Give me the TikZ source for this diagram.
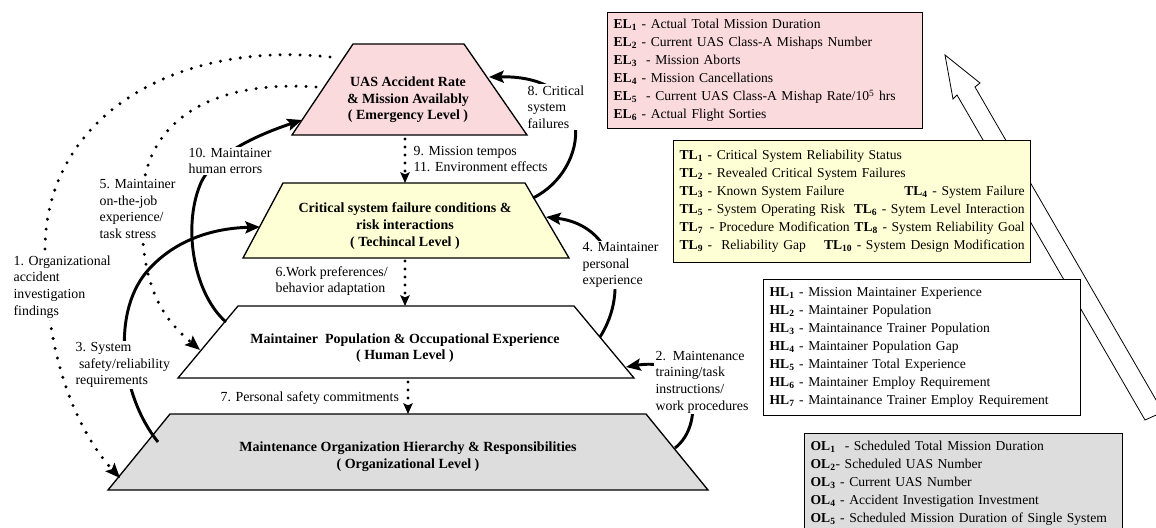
\documentclass[tikz,border=0pt]{standalone}
\usepackage{fontspec}
\setmainfont{Liberation Serif}
\usepackage{tikz}
\usetikzlibrary{arrows.meta}

\definecolor{pinkfill}{RGB}{250,218,221}
\definecolor{yellowfill}{RGB}{255,255,214}
\definecolor{grayfill}{RGB}{221,221,221}

\newcommand*{\vname}[2]{\textbf{#1\textsubscript{#2}}}

\begin{document}
\begin{tikzpicture}[
    x=0.75pt, y=-0.75pt,
    font=\fontsize{10.4}{12.5}\selectfont,
    lvtext/.style={align=center, font=\fontsize{10.5}{12.5}\selectfont\bfseries},
    lbl/.style={anchor=west, align=left, fill=white, inner sep=1pt},
    varbox/.style={draw, line width=0.9pt, anchor=north west, align=left,
        inner xsep=4.5pt, inner ysep=0pt, font=\fontsize{10.2}{13.5}\selectfont}
]
    \useasboundingbox (0,0) rectangle (1156,528);
    \clip (0,0) rectangle (1156,528);

    \coordinate (bt) at (945,55);
    \coordinate (bhr) at (980,83);
    \coordinate (bsr) at (975,87);
    \coordinate (bbr) at (1163,412);
    \coordinate (bbl) at (1145,420);
    \coordinate (bsl) at (957,95);
    \coordinate (bhl) at (953,99);
    \filldraw[fill=white, line width=0.6pt] (bt) -- (bhr) -- (bsr) -- (bbr) -- (bbl) -- (bsl) -- (bhl) -- cycle;

    \coordinate (e1) at (353,44);
    \coordinate (e2) at (464,44);
    \coordinate (e3) at (527,135);
    \coordinate (e4) at (292,135);
    \coordinate (t1) at (283,183);
    \coordinate (t2) at (525,183);
    \coordinate (t3) at (569,258);
    \coordinate (t4) at (243,258);
    \coordinate (h1) at (238,306);
    \coordinate (h2) at (574,306);
    \coordinate (h3) at (634,378);
    \coordinate (h4) at (178,378);
    \coordinate (o1) at (170,414);
    \coordinate (o2) at (646,414);
    \coordinate (o3) at (708,490);
    \coordinate (o4) at (108,490);

    \foreach \lv/\col in {e/pinkfill, t/yellowfill, h/white, o/grayfill} {
        \filldraw[fill=\col, line width=1pt] (\lv1) -- (\lv2) -- (\lv3) -- (\lv4) -- cycle;
    }

    \node[lvtext] (emerg) at (408,100) {UAS Accident Rate\\\& Mission Availably\\( Emergency Level )};
    \node[lvtext] (techn) at (405,226) {Critical system failure conditions \&\\risk interactions\\( Techincal Level )};
    \node[lvtext] (human) at (405,348) {Maintainer\ \ Population \& Occupational Experience\\( Human Level )};
    \node[lvtext] (organ) at (408,457) {Maintenance Organization Hierarchy \& Responsibilities\\( Organizational Level )};

    \coordinate (c9s) at (405,139);
    \coordinate (c9e) at (405,183);
    \coordinate (c6s) at (405,261);
    \coordinate (c6e) at (405,306);
    \coordinate (c7s) at (408,382);
    \coordinate (c7e) at (408,414);

    \coordinate (a8s) at (533,198);
    \coordinate (a8e) at (489,77);
    \coordinate (a4s) at (600,337);
    \coordinate (a4e) at (546,217);
    \coordinate (a2s) at (675,448);
    \coordinate (a2e) at (626,367);
    \coordinate (a10s) at (226,322);
    \coordinate (a10m) at (200,185);
    \coordinate (a10e) at (302,120);
    \coordinate (a3s) at (158,442);
    \coordinate (a3m) at (150,268);
    \coordinate (a3e) at (260,227);
    \coordinate (a5s) at (316,87);
    \coordinate (a5m) at (142,200);
    \coordinate (a5e) at (200,350);
    \coordinate (a1s) at (330,57);
    \coordinate (a1m) at (45,250);
    \coordinate (a1e) at (120,478);

    \begin{scope}[
        line width=2.5pt, line cap=round, dash pattern=on 0pt off 6pt,
        -{Stealth[length=8pt, width=7pt, inset=1.5pt]}
    ]
        \draw (c9s) -- (c9e);
        \draw (c6s) -- (c6e);
        \draw (c7s) -- (c7e);
    \end{scope}

    \begin{scope}[
        line width=2.5pt, line cap=round, dash pattern=on 0pt off 7.5pt,
        -{Stealth[length=11pt, width=9pt, inset=2pt]}
    ]
        \draw (a5s) .. controls (220,80) and (145,115) .. (a5m)
            .. controls (139,290) and (165,320) .. (a5e);
        \draw (a1s) .. controls (170,40) and (45,120) .. (a1m)
            .. controls (45,370) and (85,440) .. (a1e);
    \end{scope}

    \begin{scope}[
        line width=2.2pt,
        -{Stealth[length=11pt, width=9pt, inset=2pt]}
    ]
        \draw (a8s) .. controls (590,170) and (600,75) .. (a8e);
        \draw (a4s) .. controls (630,290) and (615,225) .. (a4e);
        \draw (a2s) .. controls (705,425) and (700,355) .. (a2e);
        \draw (a10s) .. controls (195,295) and (182,230) .. (a10m)
            .. controls (212,155) and (257,135) .. (a10e);
        \draw (a3s) .. controls (120,395) and (110,310) .. (a3m)
            .. controls (180,236) and (220,228) .. (a3e);
    \end{scope}

    \node[lbl] (l9) at (412,159) {9. Mission tempos\\11. Environment effects};
    \node[lbl] (l6) at (274,281) {6.Work preferences/\\behavior adaptation};
    \node[lbl] (l7) at (219,398) {7. Personal safety commitments};
    \node[lbl] (l8) at (526,107) {8. Critical\\system\\failures};
    \node[lbl] (l4) at (581,265) {4. Maintainer\\personal\\experience};
    \node[lbl] (l2) at (654,382) {2.\ \ Maintenance\\training/task\\instructions/\\work procedures};
    \node[lbl] (l10) at (187,161) {10. Maintainer\\human errors};
    \node[lbl] (l5) at (98,209) {5. Maintainer\\on-the-job\\experience/\\task stress};
    \node[lbl] (l1) at (12,287) {1. Organizational\\accident\\investigation\\findings};
    \node[lbl] (l3) at (74,365) {3. System\\\ safety/reliability\\requirements};

    \node[varbox, fill=pinkfill, text width=227.25pt, minimum height=87pt] (el) at (607,12) {
        \vname{EL}{1} - Actual Total Mission Duration\\
        \vname{EL}{2} - Current UAS Class-A Mishaps Number\\
        \vname{EL}{3}\ \ - Mission Aborts\\
        \vname{EL}{4} - Mission Cancellations\\
        \vname{EL}{5}\ \ - Current UAS Class-A Mishap Rate/10\textsuperscript{5} hrs\\
        \vname{EL}{6} - Actual Flight Sorties};
    \node[varbox, fill=yellowfill, text width=258.75pt, minimum height=91.5pt] (tl) at (673,140) {
        \vname{TL}{1} - Critical System Reliability Status\\
        \vname{TL}{2} - Revealed Critical System Failures\\
        \vname{TL}{3} - Known System Failure\hfill\vname{TL}{4} - System Failure\\
        \vname{TL}{5} - System Operating Risk\hfill\vname{TL}{6} - Sytem Level Interaction\\
        \vname{TL}{7}\,\ - Procedure Modification\hfill\vname{TL}{8} - System Reliability Goal\\
        \vname{TL}{9} -\ \ Reliability Gap\hfill\vname{TL}{10} - System Design Modification};
    \node[varbox, fill=white, text width=228.75pt, minimum height=102pt] (hl) at (763,279) {
        \vname{HL}{1} - Mission Maintainer Experience\\
        \vname{HL}{2} - Maintainer Population\\
        \vname{HL}{3} - Maintainance Trainer Population\\
        \vname{HL}{4} - Maintainer Population Gap\\
        \vname{HL}{5} - Maintainer Total Experience\\
        \vname{HL}{6} - Maintainer Employ Requirement\\
        \vname{HL}{7} - Maintainance Trainer Employ Requirement};
    \node[varbox, fill=grayfill, text width=229.5pt, minimum height=75pt] (ol) at (804,433) {
        \vname{OL}{1}\ \ - Scheduled Total Mission Duration\\
        \vname{OL}{2}- Scheduled UAS Number\\
        \vname{OL}{3} - Current UAS Number\\
        \vname{OL}{4} - Accident Investigation Investment\\
        \vname{OL}{5} - Scheduled Mission Duration of Single System};
\end{tikzpicture}
\end{document}
